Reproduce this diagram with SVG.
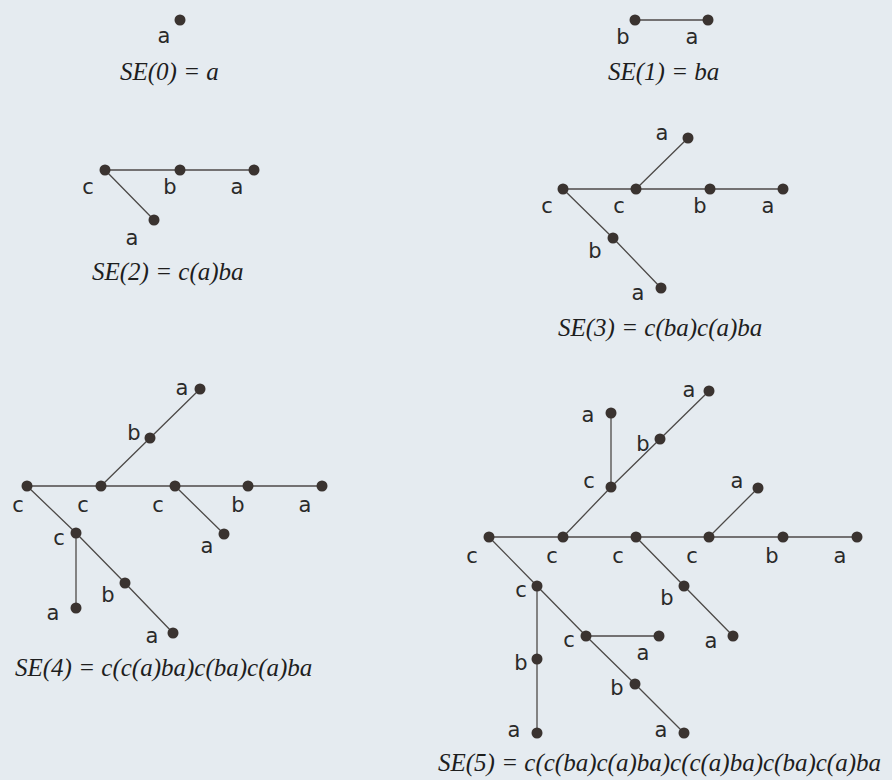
<svg xmlns="http://www.w3.org/2000/svg" width="892" height="780" viewBox="0 0 892 780">
<style>
.bg{fill:#e5ebf0}
.e{stroke:#4d4a48;stroke-width:1.3;fill:none;stroke-linecap:round}
.d{fill:#3a3330}
.l{font-family:"DejaVu Sans","Liberation Sans",sans-serif;font-size:21px;fill:#2a2a2a;text-anchor:middle}
.cap{font-family:"Liberation Serif","DejaVu Serif",serif;font-style:italic;font-size:25px;fill:#1e1e1e}
</style>
<rect class="bg" x="0" y="0" width="892" height="780"/>

<g id="connectors">
  <line class="e" x1="635" y1="20" x2="708" y2="20"/>
  <line class="e" x1="105" y1="170" x2="180" y2="170"/>
  <line class="e" x1="180" y1="170" x2="254" y2="170"/>
  <line class="e" x1="105" y1="170" x2="154" y2="220"/>
  <line class="e" x1="563" y1="189" x2="636" y2="189"/>
  <line class="e" x1="636" y1="189" x2="710" y2="189"/>
  <line class="e" x1="710" y1="189" x2="783" y2="189"/>
  <line class="e" x1="636" y1="189" x2="688" y2="138"/>
  <line class="e" x1="563" y1="189" x2="613" y2="238"/>
  <line class="e" x1="613" y1="238" x2="661" y2="288"/>
  <line class="e" x1="27" y1="486" x2="101" y2="486"/>
  <line class="e" x1="101" y1="486" x2="175" y2="486"/>
  <line class="e" x1="175" y1="486" x2="248" y2="486"/>
  <line class="e" x1="248" y1="486" x2="322" y2="486"/>
  <line class="e" x1="101" y1="486" x2="150" y2="438"/>
  <line class="e" x1="150" y1="438" x2="200" y2="389"/>
  <line class="e" x1="175" y1="486" x2="224" y2="534"/>
  <line class="e" x1="27" y1="486" x2="76" y2="533"/>
  <line class="e" x1="76" y1="533" x2="76" y2="608"/>
  <line class="e" x1="76" y1="533" x2="125" y2="583"/>
  <line class="e" x1="125" y1="583" x2="173" y2="633"/>
  <line class="e" x1="489" y1="537" x2="563" y2="537"/>
  <line class="e" x1="563" y1="537" x2="636" y2="537"/>
  <line class="e" x1="636" y1="537" x2="709" y2="537"/>
  <line class="e" x1="709" y1="537" x2="783" y2="537"/>
  <line class="e" x1="783" y1="537" x2="857" y2="537"/>
  <line class="e" x1="563" y1="537" x2="611" y2="487"/>
  <line class="e" x1="611" y1="487" x2="611" y2="413"/>
  <line class="e" x1="611" y1="487" x2="660" y2="439"/>
  <line class="e" x1="660" y1="439" x2="709" y2="391"/>
  <line class="e" x1="709" y1="537" x2="758" y2="488"/>
  <line class="e" x1="636" y1="537" x2="684" y2="586"/>
  <line class="e" x1="684" y1="586" x2="733" y2="636"/>
  <line class="e" x1="489" y1="537" x2="537" y2="586"/>
  <line class="e" x1="537" y1="586" x2="537" y2="659"/>
  <line class="e" x1="537" y1="659" x2="537" y2="733"/>
  <line class="e" x1="537" y1="586" x2="586" y2="636"/>
  <line class="e" x1="586" y1="636" x2="659" y2="636"/>
  <line class="e" x1="586" y1="636" x2="635" y2="684"/>
  <line class="e" x1="635" y1="684" x2="684" y2="733"/>
</g>

<g id="se0-a"><circle class="d" cx="180" cy="20" r="5.5"/><text class="l" x="164" y="43">a</text></g>
<text class="cap" x="120" y="80">SE(0) = a</text>

<g id="se1-b"><circle class="d" cx="635" cy="20" r="5.5"/><text class="l" x="623" y="44">b</text></g>
<g id="se1-a"><circle class="d" cx="708" cy="20" r="5.5"/><text class="l" x="692" y="44">a</text></g>
<text class="cap" x="608" y="80">SE(1) = ba</text>

<g id="se2-c"><circle class="d" cx="105" cy="170" r="5.5"/><text class="l" x="88" y="194">c</text></g>
<g id="se2-b"><circle class="d" cx="180" cy="170" r="5.5"/><text class="l" x="170" y="194">b</text></g>
<g id="se2-a"><circle class="d" cx="254" cy="170" r="5.5"/><text class="l" x="237" y="194">a</text></g>
<g id="se2-a2"><circle class="d" cx="154" cy="220" r="5.5"/><text class="l" x="132" y="245">a</text></g>
<text class="cap" x="92" y="280">SE(2) = c(a)ba</text>

<g id="se3-c1"><circle class="d" cx="563" cy="189" r="5.5"/><text class="l" x="547" y="213">c</text></g>
<g id="se3-c2"><circle class="d" cx="636" cy="189" r="5.5"/><text class="l" x="619" y="213">c</text></g>
<g id="se3-b"><circle class="d" cx="710" cy="189" r="5.5"/><text class="l" x="700" y="213">b</text></g>
<g id="se3-a"><circle class="d" cx="783" cy="189" r="5.5"/><text class="l" x="768" y="213">a</text></g>
<g id="se3-atop"><circle class="d" cx="688" cy="138" r="5.5"/><text class="l" x="662" y="140">a</text></g>
<g id="se3-blow"><circle class="d" cx="613" cy="238" r="5.5"/><text class="l" x="595" y="258">b</text></g>
<g id="se3-alow"><circle class="d" cx="661" cy="288" r="5.5"/><text class="l" x="638" y="300">a</text></g>
<text class="cap" x="558" y="336">SE(3) = c(ba)c(a)ba</text>

<g id="se4-c1"><circle class="d" cx="27" cy="486" r="5.5"/><text class="l" x="18" y="512">c</text></g>
<g id="se4-c2"><circle class="d" cx="101" cy="486" r="5.5"/><text class="l" x="83" y="512">c</text></g>
<g id="se4-c3"><circle class="d" cx="175" cy="486" r="5.5"/><text class="l" x="158" y="512">c</text></g>
<g id="se4-b"><circle class="d" cx="248" cy="486" r="5.5"/><text class="l" x="238" y="512">b</text></g>
<g id="se4-a"><circle class="d" cx="322" cy="486" r="5.5"/><text class="l" x="305" y="512">a</text></g>
<g id="se4-bu"><circle class="d" cx="150" cy="438" r="5.5"/><text class="l" x="134" y="440">b</text></g>
<g id="se4-au"><circle class="d" cx="200" cy="389" r="5.5"/><text class="l" x="182" y="395">a</text></g>
<g id="se4-a3"><circle class="d" cx="224" cy="534" r="5.5"/><text class="l" x="207" y="553">a</text></g>
<g id="se4-cl"><circle class="d" cx="76" cy="533" r="5.5"/><text class="l" x="59" y="545">c</text></g>
<g id="se4-av"><circle class="d" cx="76" cy="608" r="5.5"/><text class="l" x="53" y="620">a</text></g>
<g id="se4-bd"><circle class="d" cx="125" cy="583" r="5.5"/><text class="l" x="108" y="602">b</text></g>
<g id="se4-ad"><circle class="d" cx="173" cy="633" r="5.5"/><text class="l" x="152" y="643">a</text></g>
<text class="cap" x="15" y="676">SE(4) = c(c(a)ba)c(ba)c(a)ba</text>

<g id="se5-c1"><circle class="d" cx="489" cy="537" r="5.5"/><text class="l" x="472" y="563">c</text></g>
<g id="se5-c2"><circle class="d" cx="563" cy="537" r="5.5"/><text class="l" x="552" y="563">c</text></g>
<g id="se5-c3"><circle class="d" cx="636" cy="537" r="5.5"/><text class="l" x="618" y="563">c</text></g>
<g id="se5-c4"><circle class="d" cx="709" cy="537" r="5.5"/><text class="l" x="692" y="563">c</text></g>
<g id="se5-b"><circle class="d" cx="783" cy="537" r="5.5"/><text class="l" x="772" y="563">b</text></g>
<g id="se5-a"><circle class="d" cx="857" cy="537" r="5.5"/><text class="l" x="840" y="563">a</text></g>
<g id="se5-cu"><circle class="d" cx="611" cy="487" r="5.5"/><text class="l" x="589" y="488">c</text></g>
<g id="se5-au1"><circle class="d" cx="611" cy="413" r="5.5"/><text class="l" x="588" y="422">a</text></g>
<g id="se5-bu"><circle class="d" cx="660" cy="439" r="5.5"/><text class="l" x="643" y="451">b</text></g>
<g id="se5-au2"><circle class="d" cx="709" cy="391" r="5.5"/><text class="l" x="689" y="397">a</text></g>
<g id="se5-a4"><circle class="d" cx="758" cy="488" r="5.5"/><text class="l" x="737" y="488">a</text></g>
<g id="se5-bd"><circle class="d" cx="684" cy="586" r="5.5"/><text class="l" x="667" y="605">b</text></g>
<g id="se5-ad"><circle class="d" cx="733" cy="636" r="5.5"/><text class="l" x="711" y="648">a</text></g>
<g id="se5-cl"><circle class="d" cx="537" cy="586" r="5.5"/><text class="l" x="521" y="597">c</text></g>
<g id="se5-bv"><circle class="d" cx="537" cy="659" r="5.5"/><text class="l" x="521" y="670">b</text></g>
<g id="se5-av"><circle class="d" cx="537" cy="733" r="5.5"/><text class="l" x="514" y="737">a</text></g>
<g id="se5-cm"><circle class="d" cx="586" cy="636" r="5.5"/><text class="l" x="569" y="647">c</text></g>
<g id="se5-ah"><circle class="d" cx="659" cy="636" r="5.5"/><text class="l" x="643" y="660">a</text></g>
<g id="se5-bm"><circle class="d" cx="635" cy="684" r="5.5"/><text class="l" x="617" y="695">b</text></g>
<g id="se5-am"><circle class="d" cx="684" cy="733" r="5.5"/><text class="l" x="661" y="737">a</text></g>
<text class="cap" x="438" y="771">SE(5) = c(c(ba)c(a)ba)c(c(a)ba)c(ba)c(a)ba</text>
</svg>
